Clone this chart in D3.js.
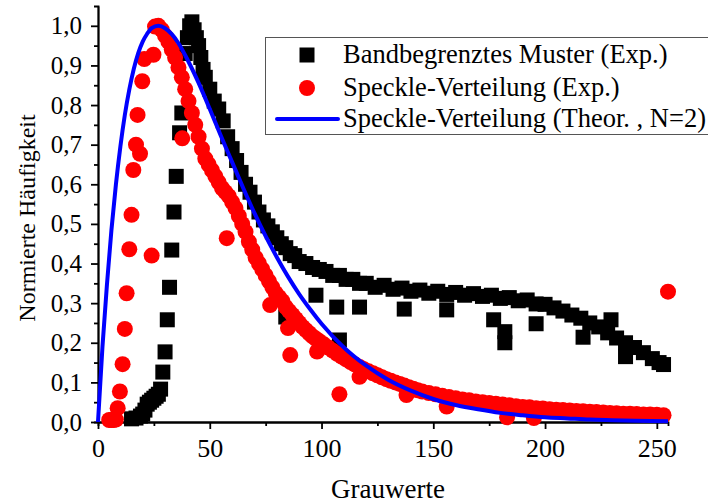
<!DOCTYPE html>
<html>
<head>
<meta charset="utf-8">
<script src="https://cdn.jsdelivr.net/npm/d3@7"></script>
<style>
  body { margin: 0; background: #fff; }
  svg { display: block; }
  text { font-family: "Liberation Serif", "Times New Roman", serif; fill: #000; }
</style>
</head>
<body>
<svg></svg>
<script>
let width = 708;
let height = 504;

// Bandbegrenztes Muster (Exp.) - [grauwert, haeufigkeit]
let bandPoints = [
  [15, 0.008], [17, 0.01], [19, 0.015], [20, 0.02], [21, 0.03], [22, 0.045], [23, 0.05], [24, 0.055],
  [25, 0.06], [26, 0.065], [27, 0.07], [28, 0.083], [29, 0.126], [30, 0.177], [31, 0.258], [32, 0.34],
  [33, 0.434], [34, 0.53], [35, 0.62], [36.5, 0.73], [37.5, 0.78], [39, 0.93], [40, 0.97], [41, 1.0],
  [42, 1.01], [43, 0.99], [44, 0.97], [45, 0.95], [46, 0.92], [47, 0.89], [48, 0.87], [50, 0.84],
  [52, 0.81], [54, 0.79], [56, 0.76], [58, 0.72], [60, 0.69], [62, 0.66], [64, 0.63], [66, 0.60],
  [68, 0.58], [70, 0.555], [72, 0.53], [74, 0.51], [76, 0.495], [78, 0.48], [80, 0.465], [82, 0.45],
  [84, 0.44], [86, 0.425], [88, 0.42], [90, 0.405], [93, 0.40], [96, 0.39], [99, 0.385], [102, 0.38],
  [105, 0.37], [108, 0.37], [111, 0.36], [114, 0.36], [117, 0.35], [120, 0.35], [124, 0.34],
  [128, 0.345], [132, 0.335], [136, 0.338], [140, 0.33], [144, 0.333], [148, 0.325], [152, 0.33],
  [156, 0.322], [160, 0.327], [164, 0.32], [168, 0.324], [172, 0.317], [176, 0.32], [180, 0.312],
  [184, 0.314], [188, 0.306], [192, 0.308], [196, 0.298], [200, 0.297], [204, 0.288], [208, 0.28],
  [212, 0.27], [216, 0.262], [220, 0.25], [224, 0.24], [228, 0.225], [232, 0.212], [236, 0.2],
  [240, 0.188], [244, 0.175], [248, 0.16], [251, 0.15], [253, 0.145],
  // Ausreisser
  [84, 0.265], [97.5, 0.32], [106.8, 0.29], [108, 0.207], [117, 0.29], [137, 0.285], [156, 0.283],
  [177, 0.258], [182, 0.228], [182, 0.20], [196, 0.248], [217, 0.214], [229.5, 0.258], [236, 0.165]
];

// Speckle-Verteilung (Exp.)
let specklePoints = [
  [5, 0.005], [6, 0.005], [7, 0.005], [8, 0.006], [8.8, 0.035], [9.8, 0.077], [11, 0.146], [12, 0.235],
  [12.8, 0.325], [14, 0.436], [15, 0.523], [15.8, 0.636], [17, 0.70], [17.7, 0.775], [18.8, 0.677],
  [19.8, 0.86], [20.7, 0.916], [24, 0.42], [24.8, 0.927], [25.5, 0.998],
  [27, 1.0], [28.5, 0.99], [30, 0.975], [31.5, 0.96], [33, 0.94], [34.5, 0.92], [36, 0.895],
  [37.5, 0.87], [39, 0.84], [40.5, 0.81], [42, 0.78], [43.5, 0.75], [45, 0.72], [46.5, 0.69],
  [48, 0.665], [49.5, 0.65], [51, 0.635], [52.5, 0.62], [54, 0.605], [55.5, 0.59], [57, 0.58],
  [58.5, 0.57], [60, 0.555], [61.5, 0.54], [63, 0.52], [64.5, 0.50], [66, 0.48], [67.5, 0.455],
  [69, 0.435], [70.5, 0.415], [72, 0.40], [73.5, 0.385], [75, 0.37], [76.5, 0.355], [78, 0.34],
  [79.5, 0.325], [81, 0.315], [82.5, 0.305], [84, 0.29], [85.5, 0.28], [87, 0.27], [88.5, 0.26],
  [90, 0.25], [91.5, 0.24], [93, 0.232], [94.5, 0.224], [96, 0.216], [97.5, 0.21], [99, 0.204],
  [101, 0.196], [103, 0.188], [105, 0.18], [107, 0.172], [109, 0.165], [111, 0.158], [113, 0.151],
  [115, 0.145], [117, 0.139], [119, 0.133], [121, 0.128], [123, 0.123], [125, 0.118], [127, 0.113],
  [129, 0.108], [131, 0.104], [133, 0.1], [135, 0.096], [137, 0.092], [139, 0.088], [141, 0.084],
  [143, 0.08], [145, 0.077], [148, 0.073], [151, 0.07], [154, 0.066], [157, 0.063], [160, 0.06],
  [163, 0.057], [166, 0.055], [169, 0.052], [172, 0.05], [175, 0.048], [178, 0.046], [181, 0.044],
  [184, 0.042], [187, 0.04], [190, 0.038], [193, 0.037], [196, 0.035], [199, 0.034], [202, 0.032],
  [205, 0.031], [208, 0.03], [211, 0.029], [214, 0.028], [217, 0.027], [220, 0.026], [223, 0.025],
  [226, 0.024], [229, 0.023], [232, 0.022], [235, 0.021], [238, 0.021], [241, 0.02], [244, 0.019],
  [247, 0.019], [250, 0.018], [253, 0.017],
  // Ausreisser
  [37.7, 0.716], [57.6, 0.464], [77, 0.295], [85, 0.237], [86, 0.169], [98, 0.178], [108, 0.07],
  [117, 0.114], [138, 0.068], [156, 0.039], [183, 0.012], [195, 0.01], [255, 0.329]
];

// Speckle-Verteilung (Theor. , N=2)
let theoryPoints = [
  [0, 0], [2, 0.19], [4, 0.347], [6, 0.484], [8, 0.599], [10, 0.695], [12, 0.775], [14, 0.839],
  [16, 0.891], [18, 0.931], [20, 0.96], [22, 0.98], [24, 0.994], [27, 1.0], [30, 0.994], [33, 0.979],
  [36, 0.956], [40, 0.915], [45, 0.856], [50, 0.79], [55, 0.722], [60, 0.656], [65, 0.59],
  [70, 0.527], [75, 0.469], [80, 0.416], [85, 0.367], [90, 0.323], [95, 0.284], [100, 0.248],
  [110, 0.188], [120, 0.142], [130, 0.106], [140, 0.079], [150, 0.058], [160, 0.043], [170, 0.032],
  [180, 0.023], [190, 0.017], [200, 0.012], [210, 0.009], [220, 0.006], [230, 0.0045],
  [240, 0.0032], [255, 0.0017]
];

let xTicks = [0, 50, 100, 150, 200, 250];
let yTicks = [0, 0.1, 0.2, 0.3, 0.4, 0.5, 0.6, 0.7, 0.8, 0.9, 1.0];
let legendLabels = [
  "Bandbegrenztes Muster (Exp.)",
  "Speckle-Verteilung (Exp.)",
  "Speckle-Verteilung (Theor. , N=2)"
];

let xScale = d3.scaleLinear()
    .domain([0, 255])
    .range([98, 668]);

let yScale = d3.scaleLinear()
    .domain([0, 1.05])
    .range([422, 6]);

let svg = d3.select("svg")
    .attr("width", width)
    .attr("height", height);

let commaFmt = d => d3.format(".1f")(d).replace(".", ",");

// minor ticks
svg.append("g")
    .attr("class", "axis")
    .attr("transform", "translate(0," + yScale(0) + ")")
    .call(d3.axisBottom(xScale).tickValues(d3.range(25, 255, 50)).tickSize(4).tickFormat(""));

svg.append("g")
    .attr("class", "axis")
    .attr("transform", "translate(" + xScale(0) + ",0)")
    .call(d3.axisLeft(yScale).tickValues(d3.range(0.05, 1.05, 0.1)).tickSize(4).tickFormat(""));

let xAxis = svg.append("g")
    .attr("class", "axis x")
    .attr("transform", "translate(0," + yScale(0) + ")")
    .call(d3.axisBottom(xScale).tickValues(xTicks).tickSize(7).tickSizeOuter(0).tickPadding(10));

let yAxis = svg.append("g")
    .attr("class", "axis y")
    .attr("transform", "translate(" + xScale(0) + ",0)")
    .call(d3.axisLeft(yScale).tickValues(yTicks).tickSize(7).tickSizeOuter(0).tickPadding(9).tickFormat(commaFmt));

svg.selectAll(".axis path, .axis line")
    .attr("stroke", "#000")
    .attr("stroke-width", 1.8);

svg.selectAll(".axis text")
    .attr("font-family", "Liberation Serif, serif")
    .attr("fill", "#000");

xAxis.selectAll("text").attr("font-size", 26);
yAxis.selectAll("text").attr("font-size", 25);

// data
svg.append("g")
    .selectAll("rect")
    .data(bandPoints)
    .enter()
    .append("rect")
    .attr("x", d => xScale(d[0]) - 7.5)
    .attr("y", d => yScale(d[1]) - 7.5)
    .attr("width", 15)
    .attr("height", 15)
    .attr("fill", "#000");

svg.append("g")
    .selectAll("circle")
    .data(specklePoints)
    .enter()
    .append("circle")
    .attr("cx", d => xScale(d[0]))
    .attr("cy", d => yScale(d[1]))
    .attr("r", 8)
    .attr("fill", "#ff0000");

svg.append("path")
    .datum(theoryPoints)
    .attr("fill", "none")
    .attr("stroke", "#0000ff")
    .attr("stroke-width", 4)
    .attr("d", d3.line()
        .x(d => xScale(d[0]))
        .y(d => yScale(d[1]))
        .curve(d3.curveMonotoneX));

// axis titles
svg.append("text")
    .attr("x", 388)
    .attr("y", 498)
    .style("text-anchor", "middle")
    .style("font-size", "27px")
    .text("Grauwerte");

svg.append("text")
    .attr("transform", "translate(35," + 218 + ") rotate(-90)")
    .style("text-anchor", "middle")
    .style("font-size", "24px")
    .text("Normierte Häufigkeit");

// legend
let legend = svg.append("g");

legend.append("rect")
    .attr("x", 265.5)
    .attr("y", 37.5)
    .attr("width", 460)
    .attr("height", 97)
    .attr("fill", "#fff")
    .attr("stroke", "#555")
    .attr("stroke-width", 1);

let rowY = [55, 88, 119];

legend.append("rect")
    .attr("x", 307 - 7.5)
    .attr("y", rowY[0] - 7.5)
    .attr("width", 15)
    .attr("height", 15)
    .attr("fill", "#000");

legend.append("circle")
    .attr("cx", 307)
    .attr("cy", rowY[1])
    .attr("r", 8)
    .attr("fill", "#ff0000");

legend.append("line")
    .attr("x1", 277)
    .attr("x2", 338)
    .attr("y1", rowY[2])
    .attr("y2", rowY[2])
    .attr("stroke", "#0000ff")
    .attr("stroke-width", 4)
    .attr("stroke-linecap", "round");

legend.selectAll("text")
    .data(legendLabels)
    .enter()
    .append("text")
    .attr("x", 343)
    .attr("y", (d, i) => rowY[i] + 8)
    .style("font-size", "26.5px")
    .text(d => d);
</script>
</body>
</html>
